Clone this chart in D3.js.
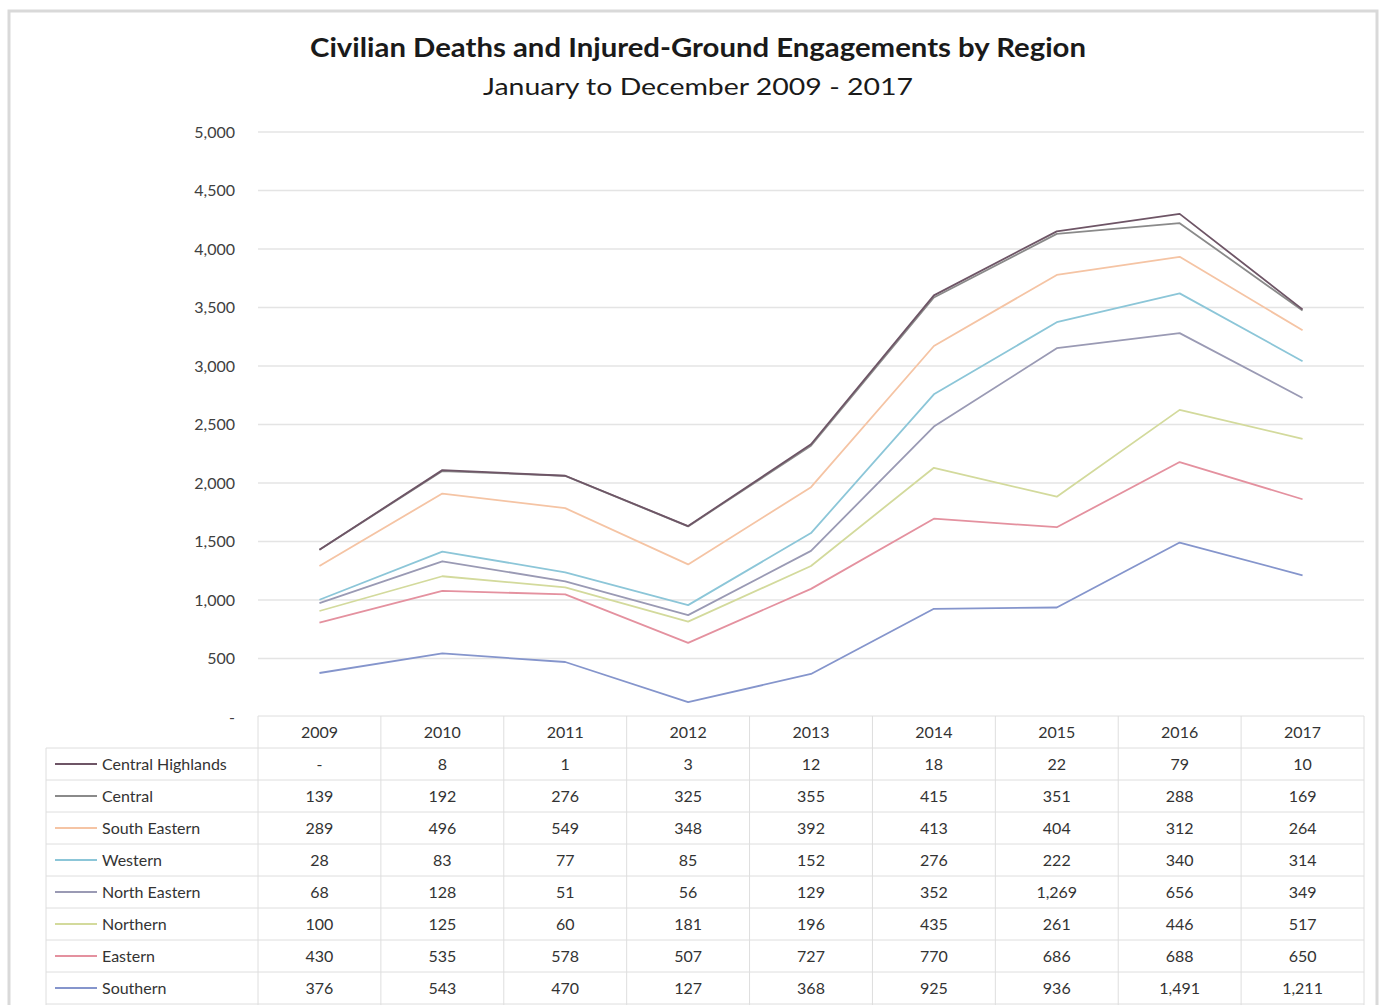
<!DOCTYPE html>
<html><head><meta charset="utf-8">
<script src="https://cdn.jsdelivr.net/npm/d3@7"></script>
<style>
html,body{margin:0;padding:0;background:#fff;}
svg{display:block;font-family:Lato,"Open Sans",sans-serif;}
</style></head>
<body><svg id="c" width="1386" height="1005"></svg>
<script>
const years = ["2009","2010","2011","2012","2013","2014","2015","2016","2017"];
// table order (top to bottom)
const seriesNames = ["Central Highlands","Central","South Eastern","Western","North Eastern","Northern","Eastern","Southern"];
const centralHighlands = [0,8,1,3,12,18,22,79,10];
const central = [139,192,276,325,355,415,351,288,169];
const southEastern = [289,496,549,348,392,413,404,312,264];
const western = [28,83,77,85,152,276,222,340,314];
const northEastern = [68,128,51,56,129,352,1269,656,349];
const northern = [100,125,60,181,196,435,261,446,517];
const eastern = [430,535,578,507,727,770,686,688,650];
const southern = [376,543,470,127,368,925,936,1491,1211];
const seriesColors = ["#6e5566","#8a8a8a","#f5c4a4","#8cc6d8","#9a9ab4","#d3da9c","#e4919f","#8595cc"];
const yTicks = [0,500,1000,1500,2000,2500,3000,3500,4000,4500,5000];

const valuesList = [centralHighlands,central,southEastern,western,northEastern,northern,eastern,southern];
const rows = years.map((y,i)=>{const o={year:y}; seriesNames.forEach((n,k)=>o[n]=valuesList[k][i]); return o;});
const stackKeys = seriesNames.slice().reverse(); // bottom first: Southern ... Central Highlands
const stacked = d3.stack().keys(stackKeys)(rows);

const svg = d3.select("#c");
// frame
svg.append("rect").attr("x",9).attr("y",11).attr("width",1368).attr("height",1000)
  .attr("fill","#fff").attr("stroke","#d9d9d9").attr("stroke-width",3);

svg.append("text").attr("x",698).attr("y",57).attr("text-anchor","middle")
  .attr("font-size",26).attr("font-weight","bold").attr("fill","#1a1a1a")
  .attr("textLength",776).attr("lengthAdjust","spacingAndGlyphs")
  .text("Civilian Deaths and Injured-Ground Engagements by Region");
svg.append("text").attr("x",698).attr("y",95).attr("text-anchor","middle")
  .attr("font-size",24).attr("fill","#1a1a1a")
  .attr("textLength",430).attr("lengthAdjust","spacingAndGlyphs")
  .text("January to December  2009 - 2017");

const left = 258, right = 1364;
const x = d3.scaleBand().domain(years).range([left,right]);
const y = d3.scaleLinear().domain([0,5000]).range([717,132]);

// gridlines
svg.append("g").selectAll("line").data(yTicks.filter(d=>d>0)).join("line")
  .attr("x1",left).attr("x2",right).attr("y1",d=>y(d)).attr("y2",d=>y(d))
  .attr("stroke","#e4e4e4").attr("stroke-width",1.5);

const yAxis = d3.axisLeft(y).tickValues(yTicks).tickSize(0).tickPadding(0)
  .tickFormat(d=>d===0?"-":d3.format(",")(d));
const gy = svg.append("g").attr("transform","translate(235,0)").call(yAxis);
gy.select(".domain").remove();
gy.selectAll("text").attr("font-size",16).attr("fill","#404040").attr("font-family","Lato,'Open Sans',sans-serif");

// lines
const line = d3.line().x((d,i)=>x(years[i])+x.bandwidth()/2).y(d=>y(d[1]));
stacked.forEach(s=>{
  const idx = seriesNames.indexOf(s.key);
  svg.append("path").datum(s).attr("d",line).attr("fill","none")
    .attr("stroke",seriesColors[idx]).attr("stroke-width",1.8).attr("stroke-linejoin","round");
});

// table
const tTop = 716, headH = 32, rowH = 32, labelLeft = 46;
const gridC = "#dedede";
const tg = svg.append("g");
// header row
tg.append("line").attr("x1",left).attr("x2",right).attr("y1",tTop).attr("y2",tTop).attr("stroke",gridC);
years.forEach(yr=>{
  tg.append("text").attr("x",x(yr)+x.bandwidth()/2).attr("y",tTop+22).attr("text-anchor","middle")
    .attr("font-size",16).attr("fill","#333").text(yr);
});
const bodyTop = tTop+headH;
for(let r=0;r<=seriesNames.length;r++){
  const yy = bodyTop + r*rowH;
  tg.append("line").attr("x1",labelLeft).attr("x2",right).attr("y1",yy).attr("y2",yy).attr("stroke",gridC);
}
// vertical lines
tg.append("line").attr("x1",labelLeft).attr("x2",labelLeft).attr("y1",bodyTop).attr("y2",1005).attr("stroke",gridC);
x.domain().concat(["end"]).forEach((yr,i)=>{
  const xx = left + i*x.bandwidth();
  tg.append("line").attr("x1",xx).attr("x2",xx).attr("y1",tTop).attr("y2",1005).attr("stroke",gridC);
});
seriesNames.forEach((n,r)=>{
  const cy = bodyTop + r*rowH + rowH/2;
  tg.append("line").attr("x1",55).attr("x2",97).attr("y1",cy).attr("y2",cy)
    .attr("stroke",seriesColors[r]).attr("stroke-width",1.8);
  tg.append("text").attr("x",102).attr("y",cy+6).attr("font-size",16).attr("fill","#333").text(n);
  valuesList[r].forEach((v,i)=>{
    tg.append("text").attr("x",x(years[i])+x.bandwidth()/2).attr("y",cy+6).attr("text-anchor","middle")
      .attr("font-size",16).attr("fill","#333").text(v===0?"-":d3.format(",")(v));
  });
});
</script></body></html>
